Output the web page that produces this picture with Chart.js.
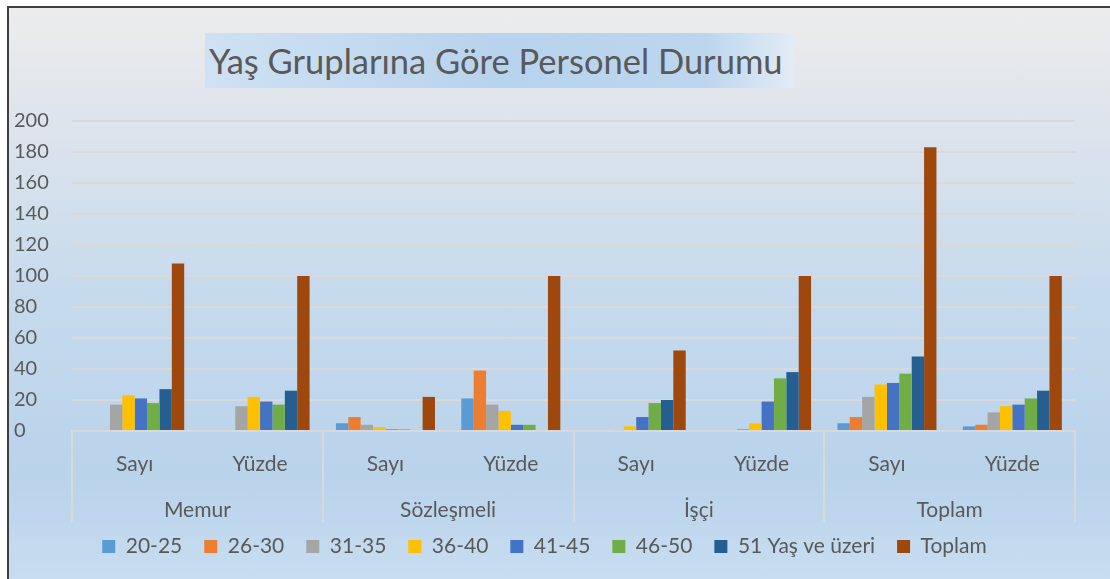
<!DOCTYPE html>
<html>
<head>
<meta charset="utf-8">
<script src="https://cdn.jsdelivr.net/npm/chart.js@4.4.1/dist/chart.umd.min.js"></script>
<style>
    html, body { margin: 0; padding: 0; background: #ffffff; }
    #frame {
        position: absolute; left: 7px; top: 6px; width: 1103px; height: 573px;
        border-left: 2px solid #3f3f3f; border-top: 2px solid #3f3f3f;
        background: linear-gradient(to bottom, #ececec 0%, #dfe5ec 18%, #c6daed 50%, #b9d3eb 82%, #c8ddf1 100%);
    }
    #title {
        position: absolute; left: 205px; top: 33px; width: 589px; height: 55px;
        background: linear-gradient(to right, #cfe1f3 0%, #b8d3ed 50%, #bcd6ee 85%, #e2ecf5 100%);
        font-family: Lato, sans-serif; font-size: 34.5px; color: #595959;
        line-height: 55px; padding-left: 4px; box-sizing: border-box; white-space: nowrap;
    }
    #wrap { position: absolute; left: 0; top: 0; width: 1110px; height: 579px; }
</style>
</head>
<body>
<div id="frame"></div>
<div id="title">Yaş Gruplarına Göre Personel Durumu</div>
<div id="wrap"><canvas id="chart" width="1110" height="579"></canvas></div>
<script>
// Categories
const groups = ['Memur', 'Sözleşmeli', 'İşçi', 'Toplam'];
const subLabels = ['Sayı', 'Yüzde', 'Sayı', 'Yüzde', 'Sayı', 'Yüzde', 'Sayı', 'Yüzde'];

// Series (Memur Sayı/Yüzde, Sözleşmeli Sayı/Yüzde, İşçi Sayı/Yüzde, Toplam Sayı/Yüzde)
const age20_25 = [0, 0, 5, 21, 0, 0, 5, 3];
const age26_30 = [0, 0, 9, 39, 0, 0, 9, 4];
const age31_35 = [17, 16, 4, 17, 0.6, 1.3, 22, 12];
const age36_40 = [23, 22, 2.5, 13, 3, 5, 30, 16];
const age41_45 = [21, 19, 1, 4, 9, 19, 31, 17];
const age46_50 = [18, 17, 1, 4, 18, 34, 37, 21];
const age51up = [27, 26, 0, 0, 20, 38, 48, 26];
const toplam = [108, 100, 22, 100, 52, 100, 183, 100];

const yTicks = [0, 20, 40, 60, 80, 100, 120, 140, 160, 180, 200];

const textColor = '#595959';
const lineColor = '#d9d9d9';

// Vertical separators between the groups, drawn below the plot
const groupLines = {
    id: 'groupLines',
    afterDraw(chart) {
        const x = chart.scales.x;
        const ctx = chart.ctx;
        const step = x.width / groups.length;
        ctx.save();
        ctx.strokeStyle = lineColor;
        ctx.lineWidth = 2;
        for (let i = 0; i <= groups.length; i++) {
            const px = Math.round(x.left + i * step);
            ctx.beginPath();
            ctx.moveTo(px, x.top);
            ctx.lineTo(px, x.bottom + 8);
            ctx.stroke();
        }
        ctx.restore();
    }
};

const series = [
    ['20-25', age20_25, '#5b9bd5'],
    ['26-30', age26_30, '#ed7d31'],
    ['31-35', age31_35, '#a5a5a5'],
    ['36-40', age36_40, '#ffc000'],
    ['41-45', age41_45, '#4472c4'],
    ['46-50', age46_50, '#70ad47'],
    ['51 Yaş ve üzeri', age51up, '#255e91'],
    ['Toplam', toplam, '#9e480e']
];

new Chart(document.getElementById('chart'), {
    type: 'bar',
    data: {
        labels: subLabels,
        datasets: series.map(([label, data, color]) => ({
            label: label,
            data: data,
            backgroundColor: color,
            borderWidth: 0,
            categoryPercentage: 0.79,
            barPercentage: 1
        }))
    },
    options: {
        responsive: false,
        animation: false,
        devicePixelRatio: 1,
        layout: { padding: { left: 14, right: 35, top: 121, bottom: 12 } },
        plugins: {
            legend: {
                position: 'bottom',
                labels: {
                    color: textColor,
                    font: { family: 'Lato', size: 21 },
                    boxWidth: 13,
                    boxHeight: 13,
                    padding: 22
                }
            },
            tooltip: { enabled: false }
        },
        scales: {
            x: {
                grid: { display: false },
                border: { color: lineColor, width: 2 },
                ticks: { color: textColor, font: { family: 'Lato', size: 21 }, padding: 13, maxRotation: 0 },
                afterFit: (scale) => { scale.height = 83; }
            },
            x2: {
                type: 'category',
                labels: groups,
                position: 'bottom',
                grid: { display: false, drawTicks: false },
                border: { display: false },
                ticks: { color: textColor, font: { family: 'Lato', size: 21 }, mirror: true, padding: -9, maxRotation: 0 },
                afterFit: (scale) => { scale.height = 0; }
            },
            y: {
                min: 0,
                max: 200,
                afterBuildTicks: (scale) => { scale.ticks = yTicks.map(v => ({ value: v })); },
                grid: { color: lineColor, lineWidth: 2, drawTicks: false },
                border: { display: false },
                ticks: { color: textColor, font: { family: 'Lato', size: 20 }, crossAlign: 'far', padding: 8 },
                afterFit: (scale) => { scale.width = 58; }
            }
        }
    },
    plugins: [groupLines]
});
</script>
</body>
</html>
